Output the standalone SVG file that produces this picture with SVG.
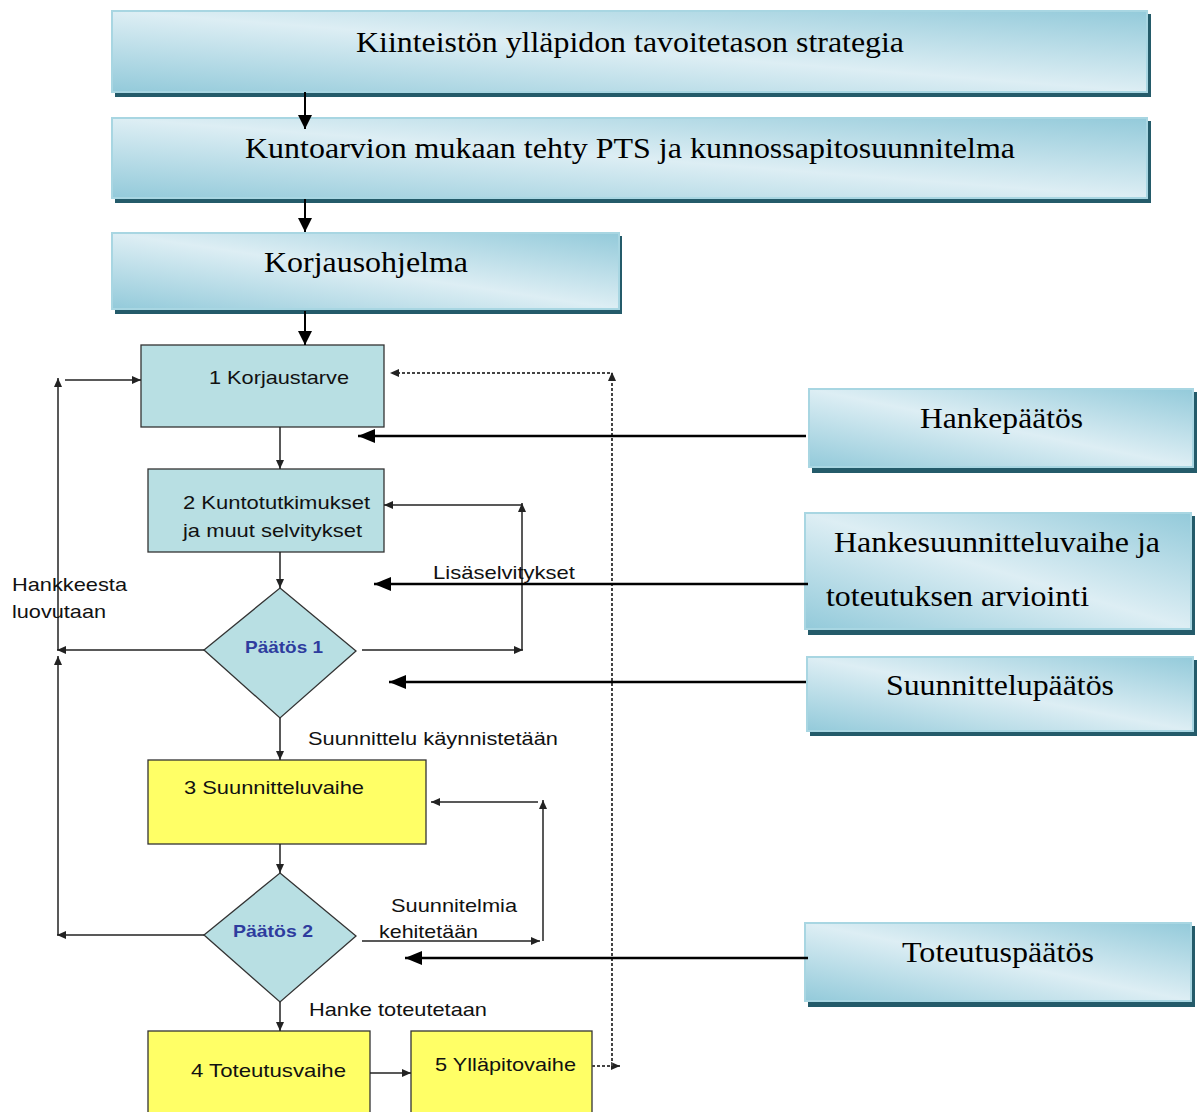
<svg xmlns="http://www.w3.org/2000/svg" width="1197" height="1112" viewBox="0 0 1197 1112">
<style>
.gb{fill:url(#lg);stroke:#a8d6e2;stroke-width:2}
.sh{fill:#245b6a}
.serif{font-family:"Liberation Serif","Times New Roman",serif;font-size:30px;fill:#000}
.sans{font-family:"Liberation Sans",Arial,sans-serif;font-size:19px;fill:#111}
.dec{font-family:"Liberation Sans",Arial,sans-serif;font-size:17px;font-weight:bold;fill:#2e3c9e}
.teal{fill:#b8dfe3;stroke:#333;stroke-width:1.3}
.yel{fill:#ffff66;stroke:#333;stroke-width:1.3}
.thin{fill:none;stroke:#222;stroke-width:1.5;marker-end:url(#ms)}
.dot{fill:none;stroke:#444;stroke-width:2;stroke-dasharray:3 2;marker-end:url(#ms)}
.med{fill:none;stroke:#000;stroke-width:2;marker-end:url(#mm)}
.thick{fill:none;stroke:#000;stroke-width:2.5;marker-end:url(#ml)}
</style>
<defs>
<linearGradient id="lg" x1="1" y1="0" x2="0" y2="1">
<stop offset="0" stop-color="#93cada"/>
<stop offset="0.5" stop-color="#ddeef4"/>
<stop offset="1" stop-color="#93cada"/>
</linearGradient>
<marker id="ms" markerUnits="userSpaceOnUse" markerWidth="9" markerHeight="8" refX="9" refY="4" orient="auto"><path d="M0,0 L9,4 L0,8 z" fill="#222"/></marker>
<marker id="mm" markerUnits="userSpaceOnUse" markerWidth="14" markerHeight="14" refX="14" refY="7" orient="auto"><path d="M0,0 L14,7 L0,14 z" fill="#000"/></marker>
<marker id="ml" markerUnits="userSpaceOnUse" markerWidth="17" markerHeight="14" refX="17" refY="7" orient="auto"><path d="M0,0 L17,7 L0,14 z" fill="#000"/></marker>
</defs>
<rect width="1197" height="1112" fill="#fff"/>

<g id="strategia">
<rect class="sh" x="115" y="14" width="1036" height="83"/>
<rect class="gb" x="112" y="11" width="1035" height="81"/>
<text class="serif" x="356" y="52" textLength="548" lengthAdjust="spacingAndGlyphs">Kiinteistön ylläpidon tavoitetason strategia</text>
</g>
<g id="pts">
<rect class="sh" x="115" y="121" width="1036" height="82"/>
<rect class="gb" x="112" y="118" width="1035" height="80"/>
<text class="serif" x="245" y="158" textLength="770" lengthAdjust="spacingAndGlyphs">Kuntoarvion mukaan tehty PTS ja kunnossapitosuunnitelma</text>
</g>
<g id="korjausohjelma">
<rect class="sh" x="115" y="236" width="507" height="78"/>
<rect class="gb" x="112" y="233" width="507" height="76"/>
<text class="serif" x="264" y="272" textLength="204" lengthAdjust="spacingAndGlyphs">Korjausohjelma</text>
</g>

<g id="n1">
<rect class="teal" x="141" y="345" width="243" height="82"/>
<text class="sans" x="209" y="384" textLength="140" lengthAdjust="spacingAndGlyphs">1 Korjaustarve</text>
</g>
<g id="n2">
<rect class="teal" x="148" y="469" width="236" height="83"/>
<text class="sans" x="183" y="509" textLength="187" lengthAdjust="spacingAndGlyphs">2 Kuntotutkimukset</text>
<text class="sans" x="183" y="537" textLength="179" lengthAdjust="spacingAndGlyphs">ja muut selvitykset</text>
</g>
<g id="d1">
<path class="teal" d="M280,588 L356,651 L280,718 L204,650 z"/>
<text class="dec" x="245" y="653" textLength="78" lengthAdjust="spacingAndGlyphs">Päätös 1</text>
</g>
<g id="n3">
<rect class="yel" x="148" y="760" width="278" height="84"/>
<text class="sans" x="184" y="794" textLength="180" lengthAdjust="spacingAndGlyphs">3 Suunnitteluvaihe</text>
</g>
<g id="d2">
<path class="teal" d="M280,873 L356,936 L280,1002 L204,935 z"/>
<text class="dec" x="233" y="937" textLength="80" lengthAdjust="spacingAndGlyphs">Päätös 2</text>
</g>
<g id="n4">
<rect class="yel" x="148" y="1031" width="222" height="90"/>
<text class="sans" x="191" y="1077" textLength="155" lengthAdjust="spacingAndGlyphs">4 Toteutusvaihe</text>
</g>
<g id="n5">
<rect class="yel" x="411" y="1031" width="181" height="90"/>
<text class="sans" x="435" y="1071" textLength="141" lengthAdjust="spacingAndGlyphs">5 Ylläpitovaihe</text>
</g>

<g id="hankepaatos">
<rect class="sh" x="812" y="392" width="385" height="81"/>
<rect class="gb" x="809" y="389" width="384" height="78"/>
<text class="serif" x="920" y="428" textLength="163" lengthAdjust="spacingAndGlyphs">Hankepäätös</text>
</g>
<g id="hankesuunnittelu">
<rect class="sh" x="808" y="516" width="387" height="119"/>
<rect class="gb" x="805" y="513" width="386" height="116"/>
<text class="serif" x="834" y="552" textLength="326" lengthAdjust="spacingAndGlyphs">Hankesuunnitteluvaihe ja</text>
<text class="serif" x="826" y="606" textLength="263" lengthAdjust="spacingAndGlyphs">toteutuksen arviointi</text>
</g>
<g id="suunnittelupaatos">
<rect class="sh" x="810" y="660" width="387" height="76"/>
<rect class="gb" x="807" y="657" width="386" height="74"/>
<text class="serif" x="886" y="695" textLength="228" lengthAdjust="spacingAndGlyphs">Suunnittelupäätös</text>
</g>
<g id="toteutuspaatos">
<rect class="sh" x="808" y="926" width="387" height="81"/>
<rect class="gb" x="805" y="923" width="386" height="78"/>
<text class="serif" x="902" y="962" textLength="192" lengthAdjust="spacingAndGlyphs">Toteutuspäätös</text>
</g>

<g id="connectors">
<path class="med" d="M305,92 L305,129"/>
<path class="med" d="M305,199 L305,232"/>
<path class="med" d="M305,311 L305,345"/>
<path class="thin" d="M280,427 L280,469"/>
<path class="thin" d="M280,552 L280,588"/>
<path class="thin" d="M280,718 L280,760"/>
<path class="thin" d="M280,844 L280,873"/>
<path class="thin" d="M280,1002 L280,1031"/>
<path class="thin" d="M370,1073 L411,1073"/>
<path class="dot" d="M592,1066 L620,1066"/>
<path class="dot" d="M612,1066 L612,372"/>
<path class="dot" d="M610,373 L390,373"/>
<path class="thin" d="M204,650 L57,650"/>
<path class="thin" d="M58,650 L58,378"/>
<path class="thin" d="M65,380 L141,380"/>
<path class="thin" d="M204,935 L57,935"/>
<path class="thin" d="M58,935 L58,656"/>
<path class="thin" d="M362,650 L523,650"/>
<path class="thin" d="M522,650 L522,503"/>
<path class="thin" d="M522,505 L384,505"/>
<path class="thin" d="M362,941 L540,941"/>
<path class="thin" d="M543,941 L543,800"/>
<path class="thin" d="M538,802 L431,802"/>
<path class="thick" d="M806,436 L358,436"/>
<path class="thick" d="M808,584 L374,584"/>
<path class="thick" d="M806,682 L389,682"/>
<path class="thick" d="M808,958 L405,958"/>
<text class="sans" x="433" y="579" textLength="142" lengthAdjust="spacingAndGlyphs">Lisäselvitykset</text>
<text class="sans" x="12" y="591" textLength="115" lengthAdjust="spacingAndGlyphs">Hankkeesta</text>
<text class="sans" x="12" y="618" textLength="94" lengthAdjust="spacingAndGlyphs">luovutaan</text>
<text class="sans" x="308" y="745" textLength="250" lengthAdjust="spacingAndGlyphs">Suunnittelu käynnistetään</text>
<text class="sans" x="391" y="912" textLength="126" lengthAdjust="spacingAndGlyphs">Suunnitelmia</text>
<text class="sans" x="379" y="938" textLength="99" lengthAdjust="spacingAndGlyphs">kehitetään</text>
<text class="sans" x="309" y="1016" textLength="178" lengthAdjust="spacingAndGlyphs">Hanke toteutetaan</text>
</g>
</svg>
